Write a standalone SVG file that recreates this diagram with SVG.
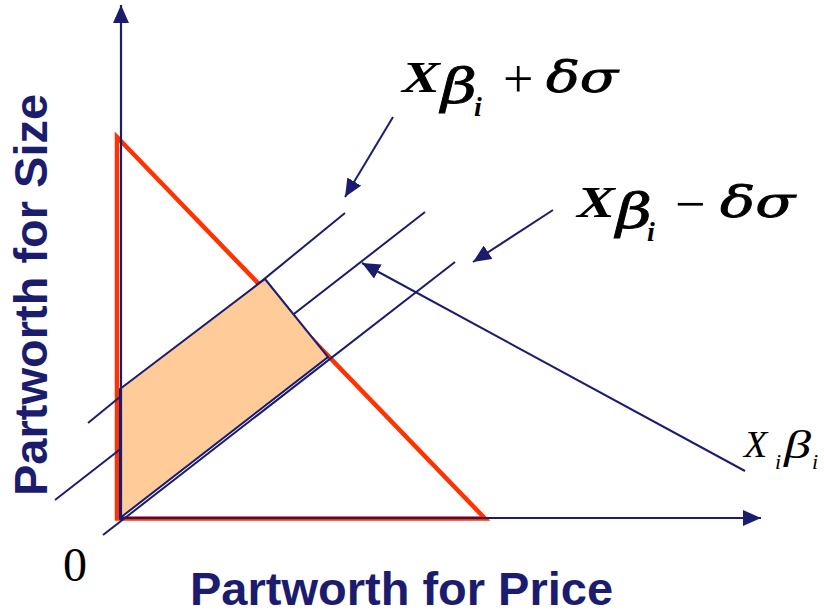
<svg xmlns="http://www.w3.org/2000/svg" width="824" height="615" viewBox="0 0 824 615">
<style>
.ln{stroke:#1C1C6E;stroke-width:2;fill:none}
.ax{stroke:#1C1C6E;stroke-width:2.2;fill:none}
.lab{font-family:"Liberation Sans",Arial,sans-serif;font-weight:bold;font-size:47px;fill:#1C1C6E}
.fm{font-family:"Liberation Serif","Times New Roman",serif;fill:#000}
.gk{font-family:"DejaVu Serif","Liberation Serif",serif;font-style:italic;font-weight:normal}
.gb{stroke:#000;stroke-width:0.8}
.bi{font-weight:bold;font-style:italic}
.it{font-style:italic}
</style>
<defs>
<marker id="ah" viewBox="0 0 18 16" refX="18" refY="8" markerWidth="18" markerHeight="16" markerUnits="userSpaceOnUse" orient="auto">
<path d="M0,0 L18,8 L0,16 z" fill="#1C1C6E"/>
</marker>
</defs>
<rect width="824" height="615" fill="#fff"/>
<g id="feasible-triangle">
<polygon points="117,137 117,518.5 485,518.5" fill="none" stroke="#FF3300" stroke-width="4.5" stroke-linejoin="miter"/>
</g>
<g id="connectors">
<line class="ln" x1="88" y1="423" x2="345" y2="213"/>
<line class="ln" x1="55" y1="500" x2="425" y2="212"/>
<line class="ln" x1="103" y1="535" x2="455" y2="262"/>
</g>
<g id="region">
<polygon points="120,389 265,279 328,357 120,518" fill="#FFCC99" stroke="#1C1C6E" stroke-width="2"/>
</g>
<g id="arrows">
<line class="ax" x1="121" y1="520" x2="121" y2="5" marker-end="url(#ah)"/>
<line class="ax" x1="119" y1="518" x2="761" y2="518" marker-end="url(#ah)"/>
<line class="ln" x1="393" y1="117" x2="345" y2="197" marker-end="url(#ah)"/>
<line class="ln" x1="553" y1="210" x2="473" y2="262" marker-end="url(#ah)"/>
<line class="ln" x1="745" y1="471" x2="362" y2="263" marker-end="url(#ah)"/>
</g>
<g id="label-plus" class="fm">
<text class="bi" x="402" y="92" font-size="44" textLength="38" lengthAdjust="spacingAndGlyphs">X</text>
<text class="gk gb" x="441" y="103" font-size="48" textLength="36" lengthAdjust="spacingAndGlyphs">β</text>
<text class="bi" x="474" y="116" font-size="28">i</text>
<text x="503" y="97" font-size="54">+</text>
<text class="gk gb" x="546" y="92" font-size="42" textLength="72" lengthAdjust="spacingAndGlyphs">δσ</text>
</g>
<g id="label-minus" class="fm" transform="translate(175,125)">
<text class="bi" x="402" y="92" font-size="44" textLength="38" lengthAdjust="spacingAndGlyphs">X</text>
<text class="gk gb" x="441" y="103" font-size="48" textLength="36" lengthAdjust="spacingAndGlyphs">β</text>
<text class="bi" x="472" y="116" font-size="28">i</text>
<text x="500" y="97" font-size="54">−</text>
<text class="gk gb" x="545" y="92" font-size="42" textLength="75" lengthAdjust="spacingAndGlyphs">δσ</text>
</g>
<g id="label-xb" class="fm it">
<text font-size="38" x="744" y="457">X</text>
<text font-size="22" x="775" y="469">i</text>
<text font-size="40" x="784" y="458" textLength="27" lengthAdjust="spacingAndGlyphs">β</text>
<text font-size="22" x="812" y="469">i</text>
</g>
<g id="origin">
<text class="fm" font-size="48" x="63" y="581">0</text>
</g>
<g id="x-label">
<text class="lab" x="190" y="605">Partworth for Price</text>
</g>
<g id="y-label">
<text class="lab" transform="translate(47,496) rotate(-90)">Partworth for Size</text>
</g>
</svg>
